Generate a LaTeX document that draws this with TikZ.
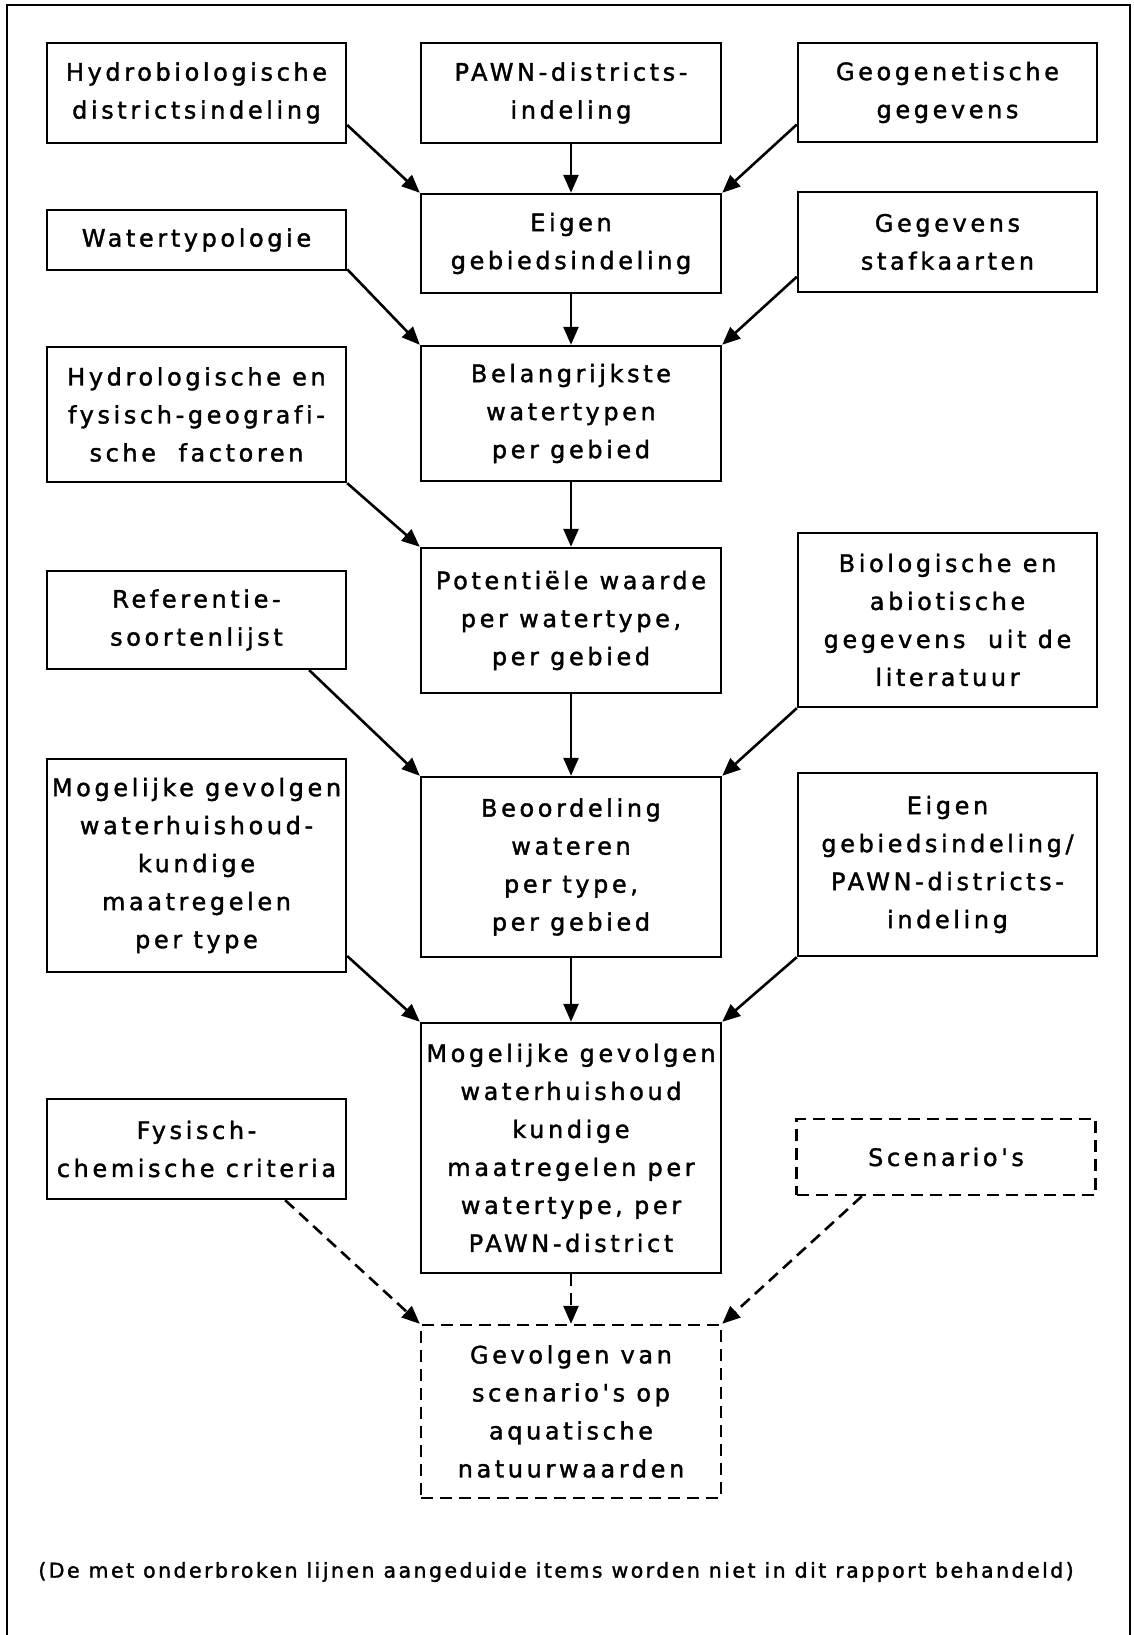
\documentclass[tikz,border=0pt]{standalone}
\usepackage{fontspec}
\usetikzlibrary{arrows.meta}
\newfontfamily\boxfont{DejaVu Sans}[LetterSpace=15,Ligatures=NoCommon,FakeBold=1.5]
\newfontfamily\notefont{DejaVu Sans}[LetterSpace=12,Ligatures=NoCommon,FakeBold=1.5]
\begin{document}
\begin{tikzpicture}[x=1pt,y=-1pt,
  box/.style={draw, line width=2.4pt, inner sep=0pt, align=center,
    font=\boxfont\fontsize{24}{38}\selectfont},
  lcol/.style={box, minimum width=299pt},
  ccol/.style={box, minimum width=300pt},
  rcol/.style={box, minimum width=299pt},
  dbox/.style={dash pattern=on 12pt off 7pt},
  arr/.style={line width=2.6pt, -{Triangle[length=18pt,width=15pt]}},
  darr/.style={arr, dash pattern=on 12pt off 7pt}]
\useasboundingbox (0,0) rectangle (1133,1635);
\draw[line width=2.5pt] (7,1640) -- (7,5) -- (1130,5) -- (1130,1640);
% row 1
\node[lcol, minimum height=100pt] (hb) at (196.5,93) {Hydrobiologische\\districtsindeling};
\node[ccol, minimum height=100pt] (pawn) at (571,93) {PAWN-districts-\\indeling};
\node[rcol, minimum height=99pt] (geo) at (947.5,92.5) {Geogenetische\\gegevens};
% row 2
\node[lcol, minimum height=60pt] (wt) at (196.5,240) {Watertypologie};
\node[ccol, minimum height=99pt] (eigen) at (571,243.5) {Eigen\\gebiedsindeling};
\node[rcol, minimum height=100pt] (geg) at (947.5,242) {Gegevens\\stafkaarten};
% row 3
\node[lcol, minimum height=135pt] (hydro) at (196.5,414.5) {Hydrologische en\\fysisch-geografi-\\sche\ \ factoren};
\node[ccol, minimum height=135pt] (bel) at (571,413.5) {Belangrijkste\\watertypen\\per\ gebied};
% row 4
\node[lcol, minimum height=98pt] (ref) at (196.5,620) {Referentie-\\soortenlijst};
\node[ccol, minimum height=145pt] (pot) at (571,620.5) {Potentiële waarde\\per\ watertype,\\per\ gebied};
\node[rcol, minimum height=174pt] (bio) at (947.5,620) {Biologische en\\abiotische\\gegevens\ \ uit de\\literatuur};
% row 5
\node[lcol, minimum height=213pt] (mogl) at (196.5,865.5) {Mogelijke gevolgen\\waterhuishoud-\\kundige\\maatregelen\\per\ type};
\node[ccol, minimum height=180pt] (beo) at (571,867) {Beoordeling\\wateren\\per\ type,\\per\ gebied};
\node[rcol, minimum height=183pt] (eigpawn) at (947.5,864.5) {Eigen\\gebiedsindeling/\\PAWN-districts-\\indeling};
% row 6
\node[ccol, minimum height=250pt] (mogc) at (571,1148) {Mogelijke gevolgen\\waterhuishoud\\kundige\\maatregelen per\\watertype, per\\PAWN-district};
\node[lcol, minimum height=100pt] (fys) at (196.5,1149) {Fysisch-\\chemische criteria};
\node[rcol, dbox, minimum height=76pt] (scen) at (946,1157) {Scenario's};
% row 7
\node[ccol, dbox, minimum height=173pt] (gev) at (571,1411.5) {Gevolgen van\\scenario's op\\aquatische\\natuurwaarden};
% footnote
\node[font=\notefont\fontsize{20.5}{24}\selectfont, inner sep=0pt] (note) at (556,1572) {(De met onderbroken lijnen aangeduide items worden niet in dit rapport behandeld)};
% connectors
\draw[arr] (hb.-12) -- (eigen.north west);
\draw[arr] (pawn.south) -- (eigen.north);
\draw[arr] (geo.192) -- (eigen.north east);
\draw[arr] (wt.-11.8) -- (bel.north west);
\draw[arr] (eigen.south) -- (bel.north);
\draw[arr] (geg.193.5) -- (bel.north east);
\draw[arr] (hydro.south east) -- (pot.north west);
\draw[arr] (bel.south) -- (pot.north);
\draw[arr] (ref.-24.9) -- (beo.north west);
\draw[arr] (pot.south) -- (beo.north);
\draw[arr] (bio.south west) -- (beo.north east);
\draw[arr] (mogl.-31.5) -- (mogc.north west);
\draw[arr] (beo.south) -- (mogc.north);
\draw[arr] (eigpawn.south west) -- (mogc.north east);
\draw[darr] (fys.-30.3) -- (gev.north west);
\draw[darr] (mogc.south) -- (gev.north);
\draw[darr] (scen.205.7) -- (gev.north east);
\end{tikzpicture}
\end{document}
